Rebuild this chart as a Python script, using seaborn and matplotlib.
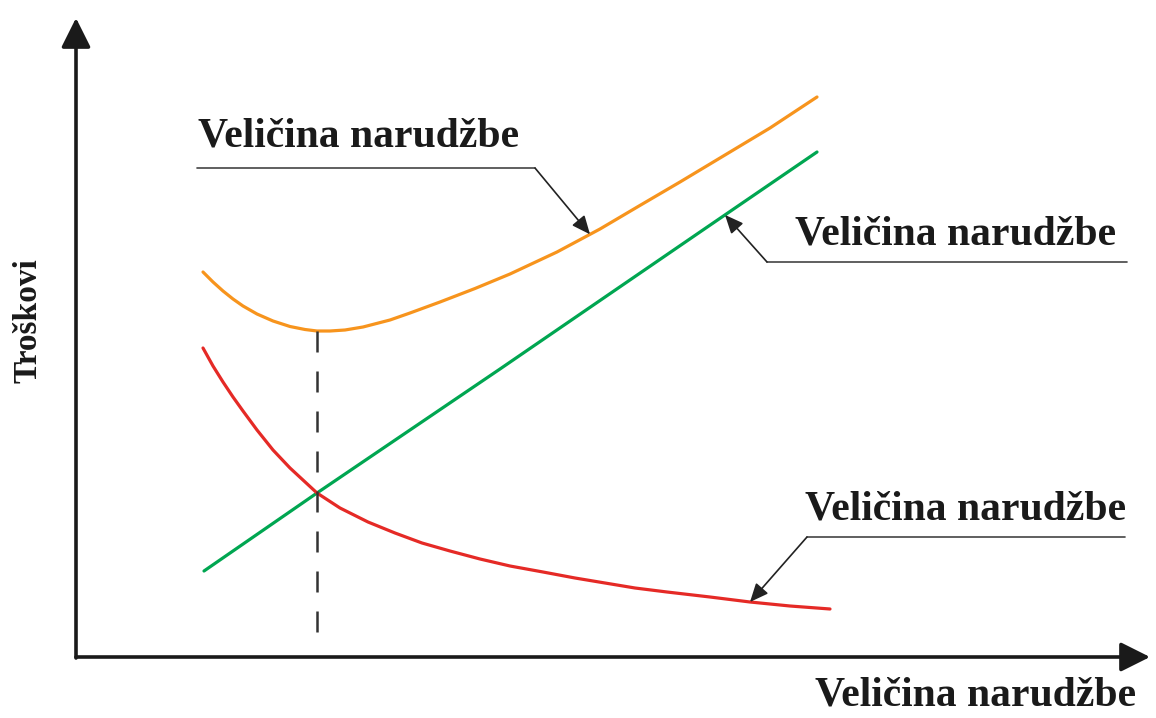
import matplotlib
matplotlib.use("Agg")
import matplotlib.pyplot as plt
import numpy as np
import pandas as pd
import seaborn as sns

# Curves (x = order size, y = cost, arbitrary units)
green_x = [12.8, 24.1, 42.4, 62.4, 74.1]
green_y = [8.6, 16.4, 28.8, 42.5, 50.5]

red_x = [12.7, 13.7, 14.7, 15.7, 16.7, 18.1, 19.7, 21.4, 24.1, 26.4, 29.2, 31.9,
         34.6, 37.4, 40.4, 43.4, 46.7, 49.9, 52.9, 55.9, 59.1, 63.4, 67.4, 71.4, 75.4]
red_y = [30.9, 29.1, 27.5, 26.0, 24.6, 22.7, 20.7, 18.9, 16.4, 14.9, 13.5, 12.4,
         11.4, 10.6, 9.8, 9.1, 8.5, 7.9, 7.4, 6.9, 6.5, 6.0, 5.5, 5.1, 4.8]

orange_x = [12.7, 13.7, 14.7, 15.7, 16.7, 18.1, 19.7, 21.4, 22.9, 24.1, 25.4, 26.9,
            28.7, 31.4, 33.4, 36.4, 39.9, 43.4, 48.1, 52.4, 56.3, 60.4, 64.4, 69.4, 74.1]
orange_y = [38.5, 37.5, 36.6, 35.8, 35.1, 34.3, 33.6, 33.05, 32.75, 32.6, 32.6, 32.7,
            33.0, 33.7, 34.4, 35.5, 36.85, 38.3, 40.5, 42.8, 45.1, 47.5, 49.9, 52.9, 56.0]

# optimum order size (minimum of total cost)
opt_x = 24.1
opt_top = 32.6
opt_bottom = 1.5

label = "Veličina narudžbe"
y_label = "Troškovi"

colors = {"total": "#F7941D", "holding": "#00A651", "ordering": "#E52A26"}

df = pd.concat([
    pd.DataFrame({"x": orange_x, "y": orange_y, "curve": "total"}),
    pd.DataFrame({"x": green_x, "y": green_y, "curve": "holding"}),
    pd.DataFrame({"x": red_x, "y": red_y, "curve": "ordering"}),
])

sns.set_theme(style="white")
plt.rcParams['font.family'] = ['Liberation Serif', 'DejaVu Serif']

fig = plt.figure(figsize=(11.56, 7.18), dpi=100)
ax = fig.add_axes([0, 0, 1, 1])

sns.lineplot(data=df, x="x", y="y", hue="curve", palette=colors,
             linewidth=2.3, legend=False, ax=ax)

ax.set_xlim(-7.6, 108.0)
ax.set_ylim(-6.1, 65.7)
ax.axis("off")

# dashed line at the optimum
ax.plot([opt_x, opt_x], [opt_top, opt_bottom], color="#333333", lw=1.8,
        dashes=(8.4, 7.6))

# axes with arrows
axis_kw = dict(arrowstyle="-|>,head_length=0.9,head_width=0.45", color="#1a1a1a",
               lw=2.6, mutation_scale=20, shrinkA=0, shrinkB=0)
ax.annotate("", xy=(107.4, 0), xytext=(0, 0), arrowprops=axis_kw)
ax.annotate("", xy=(0, 63.9), xytext=(0, -0.1), arrowprops=axis_kw)

ax.text(73.9, -4.9, label, fontsize=30, fontweight="bold", color="#1a1a1a",
        ha="left", va="baseline")
ax.text(-4.8, 33.6, y_label, fontsize=24, fontweight="bold", color="#1a1a1a",
        rotation=90, ha="center", va="center")

# callouts: text, leader line, arrow to the curve
lead_kw = dict(arrowstyle="-|>,head_length=0.8,head_width=0.35", color="#222222",
               lw=1.2, mutation_scale=14, shrinkA=0, shrinkB=0)


def callout(text_xy, line_x0, line_x1, line_y, elbow_x, tip_x, cx, cy):
    tip = (tip_x, float(np.interp(tip_x, cx, cy)))
    ax.text(text_xy[0], text_xy[1], label, fontsize=30, fontweight="bold",
            color="#1a1a1a", ha="left", va="baseline")
    ax.plot([line_x0, line_x1], [line_y, line_y], color="#444444", lw=1.2)
    ax.annotate("", xy=tip, xytext=(elbow_x, line_y), arrowprops=lead_kw)


callout((12.2, 51.0), 12.1, 45.9, 48.9, 45.9, 51.4, orange_x, orange_y)
callout((71.9, 41.2), 69.1, 105.1, 39.5, 69.1, 64.9, green_x, green_y)
callout((72.9, 13.7), 73.1, 104.9, 12.0, 73.1, 67.4, red_x, red_y)

fig.savefig("out.png", dpi=100, facecolor="white")
